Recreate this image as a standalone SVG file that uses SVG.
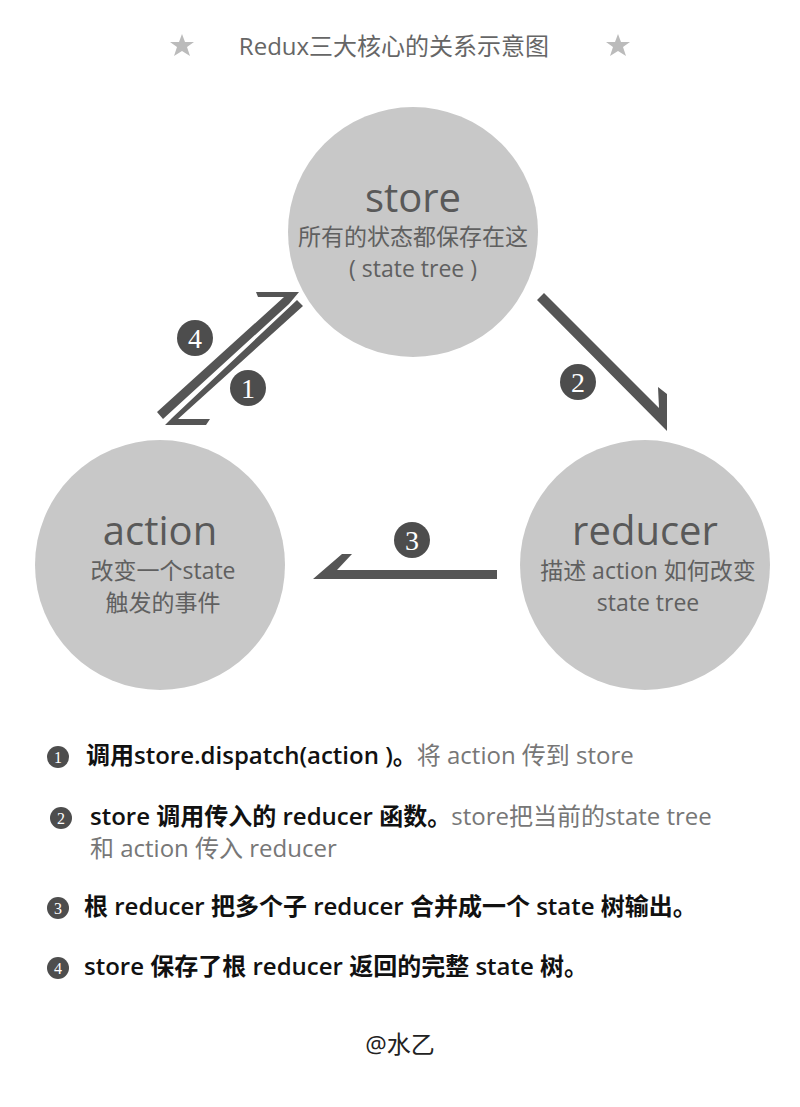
<svg xmlns="http://www.w3.org/2000/svg" width="800" height="1107" viewBox="0 0 800 1107">
<style>
text{font-family:"Open Sans","Noto Sans CJK SC",sans-serif}
.c{fill:#c8c8c8}
.big{font-size:40px;fill:#595959;text-anchor:middle}
.sm{font-size:23px;fill:#606060;text-anchor:middle}
.b{fill:#4d4d4d}
.n{font-family:"Liberation Serif",serif;fill:#fff;text-anchor:middle;font-size:28px}
.m{font-family:"Liberation Serif",serif;fill:#fff;text-anchor:middle;font-size:16px}
.k{font-size:24px;fill:#111;font-weight:600}
.g{font-size:24px;fill:#777;font-weight:normal}
.ar{fill:#555}
</style>
<rect width="800" height="1107" fill="#fff"/>
<g id="title">
<polygon points="182,34 185,42 194,42 187,47 190,56 182,51 174,56 177,47 170,42 179,42" fill="#bbb"/>
<polygon points="618,34 621,42 630,42 623,47 626,56 618,51 610,56 613,47 606,42 615,42" fill="#bbb"/>
<text x="394" y="55" font-size="24" fill="#666" text-anchor="middle">Redux三大核心的关系示意图</text>
</g>
<g id="store"><circle class="c" cx="413" cy="232" r="125"/>
<text class="big" x="413" y="212">store</text><text class="sm" x="413" y="245">所有的状态都保存在这</text><text class="sm" x="413" y="277">( state tree )</text></g>
<g id="action"><circle class="c" cx="160" cy="565" r="125"/>
<text class="big" x="160" y="545">action</text><text class="sm" x="163" y="579">改变一个state</text><text class="sm" x="163" y="611">触发的事件</text></g>
<g id="reducer"><circle class="c" cx="645" cy="565" r="125"/>
<text class="big" x="645" y="545">reducer</text><text class="sm" x="648" y="579">描述 action 如何改变</text><text class="sm" x="648" y="611">state tree</text></g>
<g id="connectors">
<polygon class="ar" points="537,300 544,293 659,408 658,387 667,394 667,431"/>
<polygon class="ar" points="497,570 337,570 352,554 342,554 313,579 497,579"/>
<polygon class="ar" points="157,412 163,419 289,304 299,292 256,292 258,297 284,297"/>
<polygon class="ar" points="297,300 303,306 178,419 210,419 206,425 165,425 172,418"/>
</g>
<g id="badges">
<circle class="b" cx="195" cy="338" r="18"/><text class="n" x="195" y="348">4</text>
<circle class="b" cx="248" cy="388" r="18"/><text class="n" x="248" y="398">1</text>
<circle class="b" cx="578" cy="382" r="18"/><text class="n" x="578" y="392">2</text>
<circle class="b" cx="412" cy="540" r="18"/><text class="n" x="412" y="550">3</text>
</g>
<g id="legend">
<circle class="b" cx="58" cy="757" r="11"/><text class="m" x="58" y="763">1</text>
<text class="k" x="86" y="764">调用store.dispatch(action )。<tspan class="g">将 action 传到 store</tspan></text>
<circle class="b" cx="61" cy="818" r="11"/><text class="m" x="61" y="824">2</text>
<text class="k" x="90" y="825">store 调用传入的 reducer 函数。<tspan class="g">store把当前的state tree</tspan></text>
<text class="g" x="90" y="857">和 action 传入 reducer</text>
<circle class="b" cx="58" cy="908" r="11"/><text class="m" x="58" y="914">3</text>
<text class="k" x="84" y="915">根 reducer 把多个子 reducer 合并成一个 state 树输出。</text>
<circle class="b" cx="58" cy="968" r="11"/><text class="m" x="58" y="974">4</text>
<text class="k" x="84" y="975">store 保存了根 reducer 返回的完整 state 树。</text>
<text x="400" y="1053" font-size="24" fill="#222" text-anchor="middle">@水乙</text>
</g>
</svg>
